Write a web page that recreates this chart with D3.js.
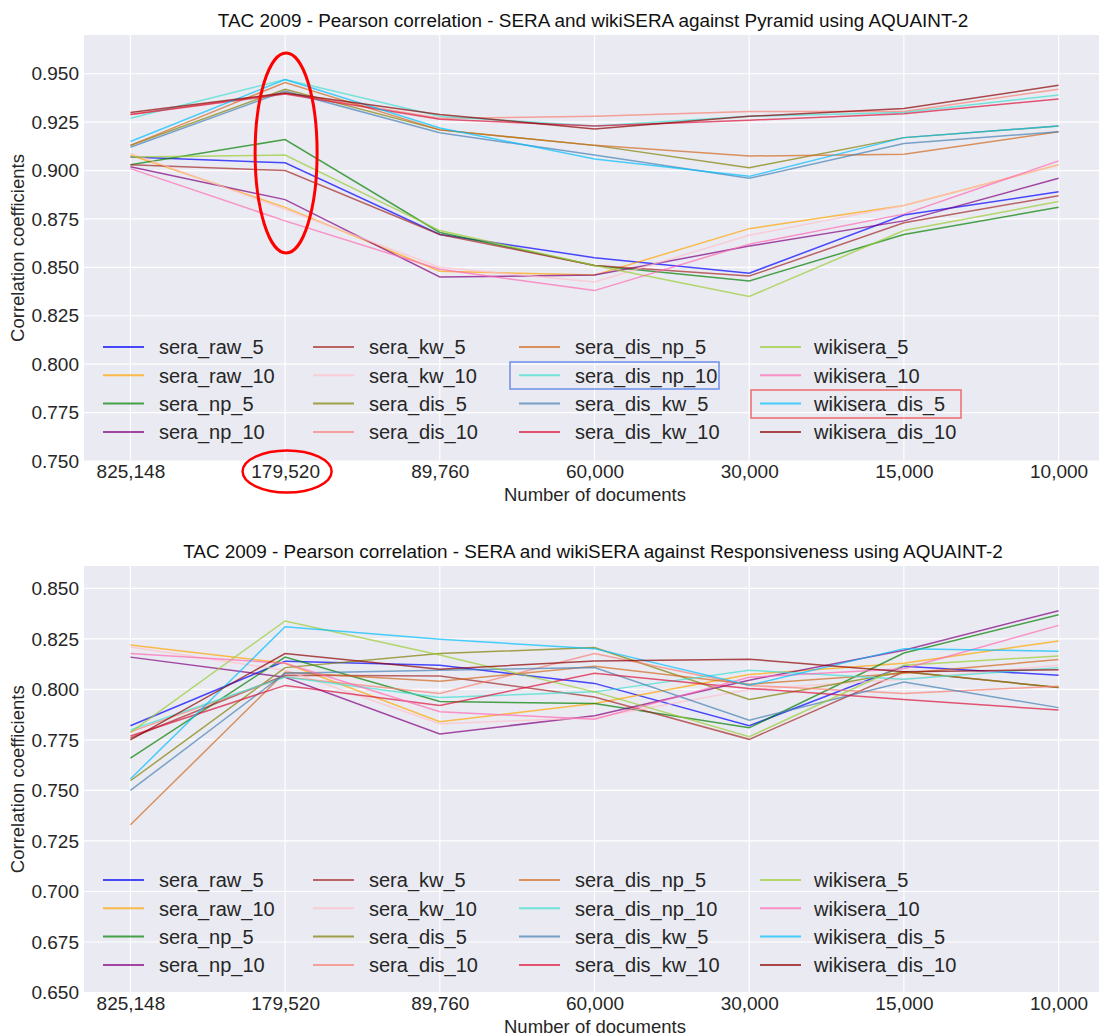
<!DOCTYPE html>
<html><head><meta charset="utf-8">
<script src="https://cdn.jsdelivr.net/npm/d3@7"></script>
<style>body{margin:0;background:#fff;}svg{display:block;font-family:"Liberation Sans",Arial,sans-serif;}</style>
</head><body>
<script>
const categories = ["825,148","179,520","89,760","60,000","30,000","15,000","10,000"];
const seriesNames = ["sera_raw_5","sera_raw_10","sera_np_5","sera_np_10","sera_kw_5","sera_kw_10","sera_dis_5","sera_dis_10","sera_dis_np_5","sera_dis_np_10","sera_dis_kw_5","sera_dis_kw_10","wikisera_5","wikisera_10","wikisera_dis_5","wikisera_dis_10"];
const seriesColors = ["blue","orange","green","purple","brown","pink","olive","salmon","chocolate","turquoise","steelblue","crimson","yellowgreen","hotpink","deepskyblue","darkred"];
const pyramidValues = [
  [0.907,0.904,0.867,0.855,0.847,0.877,0.889],
  [0.908,0.881,0.848,0.846,0.870,0.882,0.903],
  [0.903,0.916,0.868,0.851,0.843,0.867,0.881],
  [0.902,0.885,0.845,0.846,0.861,0.874,0.896],
  [0.903,0.900,0.867,0.851,0.8455,0.873,0.887],
  [0.909,0.880,0.850,0.8425,0.8666,0.882,0.903],
  [0.913,0.942,0.921,0.913,0.9015,0.917,0.923],
  [0.929,0.940,0.927,0.928,0.9305,0.9305,0.942],
  [0.913,0.9455,0.921,0.913,0.9075,0.9084,0.920],
  [0.927,0.947,0.928,0.923,0.928,0.930,0.939],
  [0.912,0.941,0.9195,0.908,0.896,0.914,0.920],
  [0.929,0.9395,0.9265,0.923,0.926,0.9293,0.937],
  [0.907,0.908,0.869,0.851,0.835,0.869,0.884],
  [0.901,0.874,0.849,0.838,0.862,0.8775,0.905],
  [0.915,0.947,0.922,0.906,0.897,0.917,0.923],
  [0.930,0.940,0.929,0.9215,0.928,0.932,0.944]
];
const responsivenessValues = [
  [0.782,0.814,0.812,0.803,0.782,0.8115,0.807],
  [0.822,0.813,0.784,0.793,0.8074,0.813,0.824],
  [0.766,0.816,0.794,0.793,0.781,0.818,0.837],
  [0.816,0.806,0.778,0.787,0.8046,0.8194,0.839],
  [0.776,0.807,0.8067,0.7963,0.7753,0.8087,0.801],
  [0.821,0.8095,0.783,0.786,0.800,0.805,0.812],
  [0.7548,0.8108,0.8178,0.8207,0.795,0.8087,0.801],
  [0.779,0.8062,0.798,0.8178,0.802,0.798,0.8016],
  [0.733,0.8085,0.804,0.8115,0.8026,0.808,0.8148],
  [0.780,0.8062,0.796,0.7988,0.8095,0.805,0.8108],
  [0.750,0.808,0.8095,0.8108,0.7848,0.8037,0.791],
  [0.777,0.802,0.792,0.808,0.8005,0.795,0.7898],
  [0.7787,0.8339,0.817,0.7988,0.7766,0.812,0.8166],
  [0.8178,0.813,0.789,0.7852,0.806,0.8103,0.8317],
  [0.7557,0.831,0.8248,0.8202,0.8021,0.8202,0.8189],
  [0.775,0.8178,0.810,0.8141,0.815,0.8087,0.8098]
];
const pyramidTicks = [0.750,0.775,0.800,0.825,0.850,0.875,0.900,0.925,0.950];
const responsivenessTicks = [0.650,0.675,0.700,0.725,0.750,0.775,0.800,0.825,0.850];
const titles = ["TAC 2009 - Pearson correlation - SERA and wikiSERA against Pyramid using AQUAINT-2",
                "TAC 2009 - Pearson correlation - SERA and wikiSERA against Responsiveness using AQUAINT-2"];
const xLabel = "Number of documents";
const yLabel = "Correlation coefficients";

const W = 1099, H = 1036;
const svg = d3.select("body").append("svg").attr("width", W).attr("height", H);

function drawPanel(cfg) {
  const g = svg.append("g");
  const x = d3.scalePoint().domain(categories).range([84, 1105]).padding(0.3);
  const y = d3.scaleLinear().domain(cfg.domain).range([cfg.bottom, cfg.top]);
  g.append("rect").attr("x", 84).attr("y", cfg.top).attr("width", 1105 - 84).attr("height", cfg.bottom - cfg.top).attr("fill", "#eaeaf2");
  g.selectAll(".hg").data(cfg.ticks).enter().append("line")
    .attr("x1", 84).attr("x2", 1105).attr("y1", d => y(d)).attr("y2", d => y(d))
    .attr("stroke", "#fff").attr("stroke-width", 1.2);
  g.selectAll(".vg").data(categories).enter().append("line")
    .attr("x1", d => x(d)).attr("x2", d => x(d)).attr("y1", cfg.top).attr("y2", cfg.bottom)
    .attr("stroke", "#fff").attr("stroke-width", 1.2);
  const yAx = g.append("g").attr("transform", "translate(84,0)")
    .call(d3.axisLeft(y).tickValues(cfg.ticks).tickFormat(d3.format(".3f")).tickSize(0).tickPadding(5));
  yAx.select(".domain").remove();
  yAx.selectAll("text").attr("font-size", 19).attr("fill", "#262626").attr("font-family", "Liberation Sans, Arial, sans-serif");
  const xAx = g.append("g").attr("transform", `translate(0,${cfg.bottom})`)
    .call(d3.axisBottom(x).tickSize(0).tickPadding(4));
  xAx.select(".domain").remove();
  xAx.selectAll("text").attr("font-size", 19).attr("fill", "#262626").attr("font-family", "Liberation Sans, Arial, sans-serif");
  const line = d3.line().x((d, i) => x(categories[i])).y(d => y(d));
  cfg.values.forEach((vals, i) => {
    g.append("path").attr("d", line(vals)).attr("fill", "none")
      .attr("stroke", seriesColors[i]).attr("stroke-opacity", 0.7).attr("stroke-width", 1.5);
  });
  g.append("text").attr("x", 593).attr("y", cfg.top - 8).attr("text-anchor", "middle")
    .attr("font-size", 18.9).attr("fill", "#111").text(cfg.title);
  g.append("text").attr("x", 595).attr("y", cfg.bottom + 40).attr("text-anchor", "middle")
    .attr("font-size", 18.5).attr("fill", "#262626").text(xLabel);
  g.append("text").attr("transform", `translate(24,${(cfg.top + cfg.bottom) / 2}) rotate(-90)`)
    .attr("text-anchor", "middle").attr("font-size", 18.5).attr("fill", "#262626").text(yLabel);
  const colHandle = [103, 313, 519, 760];
  const colText = [159, 369, 575, 814];
  const lg = g.append("g");
  seriesNames.forEach((name, i) => {
    const c = Math.floor(i / 4), r = i % 4;
    const yy = cfg.legendTop + r * 28.3;
    lg.append("line").attr("x1", colHandle[c]).attr("x2", colHandle[c] + 41).attr("y1", yy).attr("y2", yy)
      .attr("stroke", seriesColors[i]).attr("stroke-opacity", 0.7).attr("stroke-width", 2);
    lg.append("text").attr("x", colText[c]).attr("y", yy).attr("dy", "0.36em")
      .attr("font-size", 20).attr("fill", "#262626").text(name);
  });
  return {x, y};
}

const p1 = drawPanel({top: 35, bottom: 461, domain: [0.75, 0.970], ticks: pyramidTicks, values: pyramidValues, title: titles[0], legendTop: 347});
drawPanel({top: 566, bottom: 992.5, domain: [0.65, 0.8611], ticks: responsivenessTicks, values: responsivenessValues, title: titles[1], legendTop: 880});

const cx = p1.x(categories[1]);
svg.append("ellipse").attr("cx", cx + 1).attr("cy", 153).attr("rx", 31).attr("ry", 100)
  .attr("fill", "none").attr("stroke", "red").attr("stroke-width", 3);
svg.append("ellipse").attr("cx", cx + 2).attr("cy", 471.5).attr("rx", 44.5).attr("ry", 21)
  .attr("fill", "none").attr("stroke", "red").attr("stroke-width", 2.5);
svg.append("rect").attr("x", 510).attr("y", 362).attr("width", 209).attr("height", 27)
  .attr("fill", "none").attr("stroke", "#6d8fe8").attr("stroke-width", 1.5);
svg.append("rect").attr("x", 751).attr("y", 390).attr("width", 210).attr("height", 28)
  .attr("fill", "none").attr("stroke", "#ee6b6b").attr("stroke-width", 1.5);
</script>
</body></html>
